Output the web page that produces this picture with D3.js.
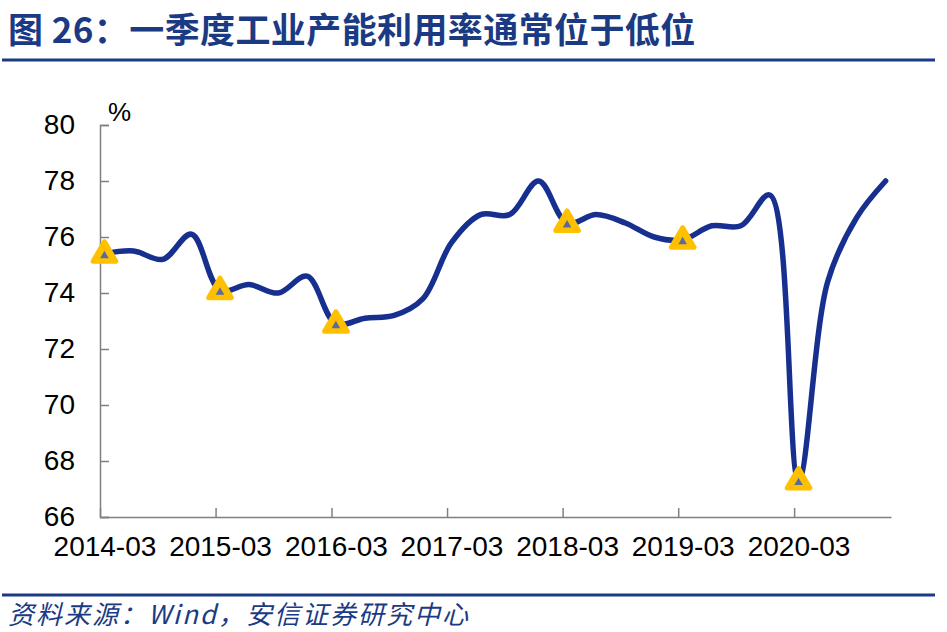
<!DOCTYPE html>
<html><head><meta charset="utf-8">
<script src="https://cdn.jsdelivr.net/npm/d3@7/dist/d3.min.js"></script>
<style>
html,body{margin:0;padding:0;background:#fff;}
svg{display:block;}
</style></head>
<body>
<svg id="chart" width="947" height="632"></svg>
<script>
// ---- data ----
const quarters = [
 "2014-03","2014-06","2014-09","2014-12",
 "2015-03","2015-06","2015-09","2015-12",
 "2016-03","2016-06","2016-09","2016-12",
 "2017-03","2017-06","2017-09","2017-12",
 "2018-03","2018-06","2018-09","2018-12",
 "2019-03","2019-06","2019-09","2019-12",
 "2020-03","2020-06","2020-09","2020-12"];
const utilization = [
 75.4,75.5,75.2,76.1,
 74.1,74.3,74.0,74.6,
 72.9,73.1,73.2,73.8,
 75.8,76.8,76.8,78.0,
 76.5,76.8,76.5,76.0,
 75.9,76.4,76.4,77.5,
 67.3,74.4,76.7,78.0];
const markerQuarters = ["2014-03","2015-03","2016-03","2018-03","2019-03","2020-03"];
const xTickLabels = ["2014-03","2015-03","2016-03","2017-03","2018-03","2019-03","2020-03"];
const yTicks = [66,68,70,72,74,76,78,80];
const titleText = "图 26：一季度工业产能利用率通常位于低位";
const sourceText = "资料来源：Wind，安信证券研究中心";

(function(){
// ---- layout ----
const svg = d3.select("#chart");
const pLeft = 100, pRight = 891, pTop = 125, pBottom = 517;
const navy = "#1b3a84";
const lineColor = "#17308f";
const axisColor = "#808080";

const parseMonth = d3.timeParse("%Y-%m-%d");
const pointDate = q => parseMonth(q + "-15");
const tickDate = q => parseMonth(q + "-01");

const x = d3.scaleTime()
  .domain([parseMonth("2014-03-01"), parseMonth("2021-01-01")])
  .range([pLeft, pRight]);
const y = d3.scaleLinear().domain([66, 80]).range([pBottom, pTop]);

// title
svg.append("text")
  .attr("x", 8).attr("y", 43)
  .attr("font-family", "'Noto Sans CJK SC', sans-serif")
  .attr("font-weight", "bold")
  .attr("font-size", 35)
  .attr("letter-spacing", 0.4)
  .attr("fill", navy)
  .text(titleText);
svg.append("line").attr("x1", 2).attr("x2", 935).attr("y1", 60).attr("y2", 60)
  .attr("stroke", navy).attr("stroke-width", 3);

// footer
svg.append("line").attr("x1", 2).attr("x2", 935).attr("y1", 595).attr("y2", 595)
  .attr("stroke", navy).attr("stroke-width", 3);
svg.append("text")
  .attr("x", 8).attr("y", 624)
  .attr("font-family", "'Noto Sans CJK SC', sans-serif")
  .attr("font-style", "italic")
  .attr("font-size", 26)
  .attr("letter-spacing", 2)
  .attr("fill", navy)
  .text(sourceText);

// y axis
const yAxis = d3.axisLeft(y).tickValues(yTicks).tickSize(-9).tickPadding(25).tickFormat(d3.format("d"));
const gy = svg.append("g").attr("transform", `translate(${pLeft},0)`).call(yAxis);
gy.select(".domain").attr("stroke", axisColor).attr("stroke-width", 1.5);
gy.selectAll(".tick line").attr("stroke", axisColor).attr("stroke-width", 1.5);
gy.selectAll(".tick text").attr("font-family", "'Liberation Sans', Arial, sans-serif")
  .attr("font-size", 28).attr("fill", "#000");

// x axis
const xAxis = d3.axisBottom(x)
  .tickValues(xTickLabels.map(tickDate))
  .tickSize(-9).tickSizeOuter(0).tickPadding(19)
  .tickFormat(d3.timeFormat("%Y-%m"));
const gx = svg.append("g").attr("transform", `translate(0,${pBottom})`).call(xAxis);
gx.select(".domain").attr("stroke", axisColor).attr("stroke-width", 1.5);
gx.selectAll(".tick line").attr("stroke", axisColor).attr("stroke-width", 1.5);
const labelShift = x(pointDate("2014-03")) - x(tickDate("2014-03"));
gx.selectAll(".tick text").attr("font-family", "'Liberation Sans', Arial, sans-serif")
  .attr("font-size", 28).attr("fill", "#000").attr("x", labelShift);

// unit label
svg.append("text").attr("x", 108).attr("y", 121)
  .attr("font-family", "'Liberation Sans', Arial, sans-serif")
  .attr("font-size", 26).attr("fill", "#000").text("%");

// line
const pts = quarters.map((q, i) => ({q, d: pointDate(q), v: utilization[i]}));
const line = d3.line().x(p => x(p.d)).y(p => y(p.v)).curve(d3.curveCatmullRom.alpha(0.5));
svg.append("path").datum(pts)
  .attr("d", line).attr("fill", "none")
  .attr("stroke", lineColor).attr("stroke-width", 5.5)
  .attr("stroke-linejoin", "round").attr("stroke-linecap", "round");

// markers
const mk = pts.filter(p => markerQuarters.includes(p.q));
const tri = (s) => `M0,${-s*0.62} L${s*0.54},${s*0.31} L${-s*0.54},${s*0.31} Z`;
const g = svg.append("g").selectAll("g").data(mk).join("g")
  .attr("transform", p => `translate(${x(p.d)},${y(p.v) + 1})`);
g.append("path").attr("d", tri(21)).attr("fill", "#ffc000")
  .attr("stroke", "#ffc000").attr("stroke-width", 5).attr("stroke-linejoin", "round");
g.append("path").attr("d", tri(8)).attr("transform", "translate(0,1)").attr("fill", "#5c6b9c");
})();
</script>
</body></html>
